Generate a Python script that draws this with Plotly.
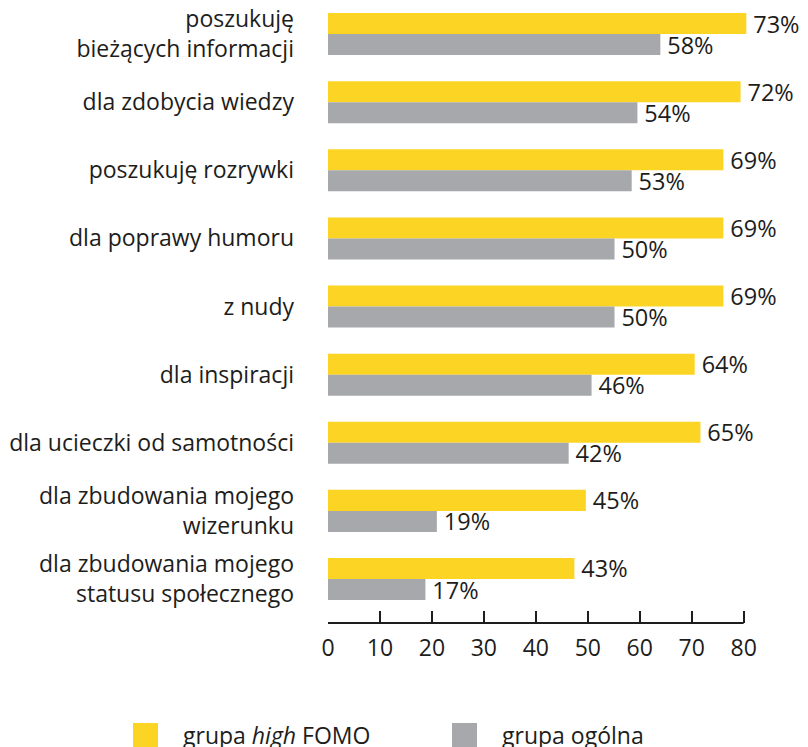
import plotly.graph_objects as go

categories = [
    "poszukuję<br>bieżących informacji",
    "dla zdobycia wiedzy",
    "poszukuję rozrywki",
    "dla poprawy humoru",
    "z nudy",
    "dla inspiracji",
    "dla ucieczki od samotności",
    "dla zbudowania mojego<br>wizerunku",
    "dla zbudowania mojego<br>statusu społecznego",
]
high_fomo = [73, 72, 69, 69, 69, 64, 65, 45, 43]
general = [58, 54, 53, 50, 50, 46, 42, 19, 17]
tick_values = [0, 10, 20, 30, 40, 50, 60, 70, 80]
series_names = ["grupa <i>high</i> FOMO", "grupa ogólna"]

YELLOW = "#FCD424"
GRAY = "#A7A8AB"
INK = "#1d1d1b"
FONT = "Open Sans"

W, H = 808, 747
L, R, T, B = 328, 8, 0, 124
PW, PH = W - L - R, H - T - B

def px_x(px):
    return (px - L) / PW

def px_y(py):
    return (T + PH - py) / PH

fig = go.Figure()
for vals, col in [(high_fomo, YELLOW), (general, GRAY)]:
    fig.add_trace(go.Bar(
        x=vals, y=categories, orientation="h",
        marker=dict(color=col, line=dict(width=0)),
        text=[f"\u2009{v}%" for v in vals], textposition="outside",
        textfont=dict(family=FONT, size=23.5, color=INK),
        constraintext="none", cliponaxis=False, showlegend=False,
        xaxis="x", yaxis="y",
    ))

# invisible trace to activate tick axis
fig.add_trace(go.Scatter(x=[tick_values[0]], y=[categories[0]], xaxis="x2", yaxis="y",
                         mode="markers", marker=dict(opacity=0), showlegend=False,
                         hoverinfo="skip"))

fig.update_layout(
    width=W, height=H,
    margin=dict(l=L, r=R, t=T, b=B, autoexpand=False),
    paper_bgcolor="white", plot_bgcolor="white",
    barmode="group", bargap=0.383, bargroupgap=0,
    font=dict(family=FONT, size=23, color=INK),
    xaxis=dict(range=[0, PW / 5.73], visible=False, showgrid=False, zeroline=False,
               automargin=False),
    xaxis2=dict(range=[0, PW / 5.196], overlaying="x", anchor="y", side="bottom",
                tickvals=tick_values, ticktext=[str(t) for t in tick_values],
                ticks="inside", ticklen=12, tickwidth=1.6, tickcolor=INK,
                ticklabelstandoff=9,
                showline=False, showgrid=False, zeroline=False, automargin=False,
                tickfont=dict(family=FONT, size=23, color=INK)),
    yaxis=dict(type="category", categoryorder="array", categoryarray=categories,
               range=[len(categories) - 1 + 0.646, -0.5],
               showline=False, showgrid=False, zeroline=False, ticks="",
               ticklabelstandoff=33, automargin=False,
               tickfont=dict(family=FONT, size=23, color=INK)),
    shapes=[
        dict(type="line", xref="x2", yref="paper", x0=tick_values[0], x1=tick_values[-1],
             y0=0, y1=0, line=dict(color=INK, width=2)),
        dict(type="rect", xref="paper", yref="paper", x0=px_x(133), x1=px_x(158),
             y0=px_y(748), y1=px_y(723), fillcolor=YELLOW, line=dict(width=0)),
        dict(type="rect", xref="paper", yref="paper", x0=px_x(452), x1=px_x(477),
             y0=px_y(748), y1=px_y(723), fillcolor=GRAY, line=dict(width=0)),
    ],
    annotations=[
        dict(text=series_names[0], xref="paper", yref="paper", x=px_x(181), y=px_y(735),
             xanchor="left", yanchor="middle", showarrow=False,
             font=dict(family=FONT, size=23, color=INK)),
        dict(text=series_names[1], xref="paper", yref="paper", x=px_x(500), y=px_y(735),
             xanchor="left", yanchor="middle", showarrow=False,
             font=dict(family=FONT, size=23, color=INK)),
    ],
)

fig.write_html("out.html", config={"displayModeBar": False},
               post_script="document.body.style.margin='0';document.body.style.overflow='hidden';")
